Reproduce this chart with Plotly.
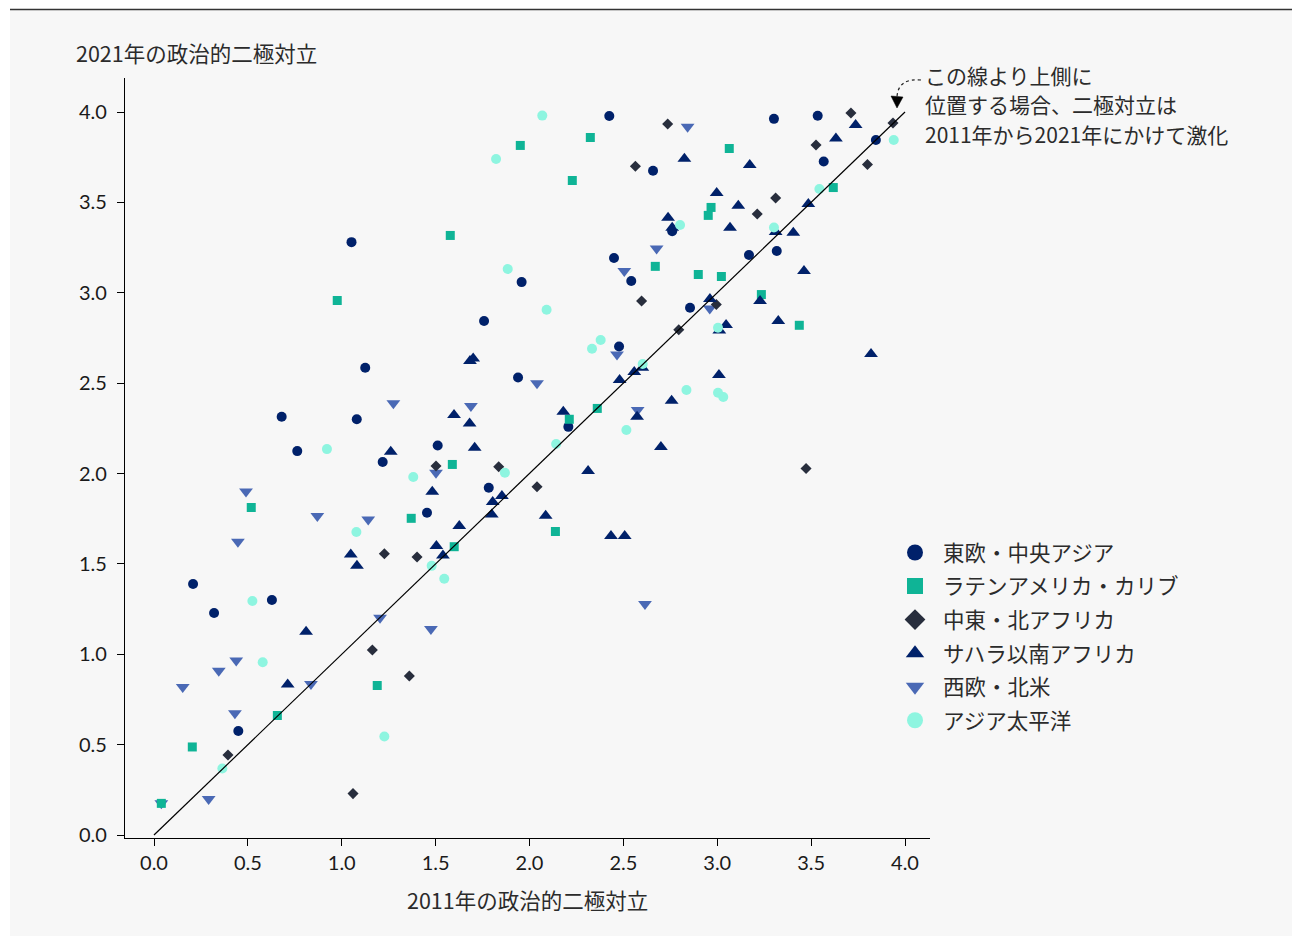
import plotly.graph_objects as go

# ---------------- data ----------------
ee_x = [1.052, 1.125, 0.68, 1.08, 0.763, 1.218, 2.425, 2.658, 2.45, 2.542, 1.958, 1.758, 2.477, 1.939, 2.207,
        1.511, 3.302, 3.535, 3.845, 3.567, 2.76, 3.169, 3.317, 2.855, 1.783, 1.454, 0.208, 0.628, 0.32, 0.449]
ee_y = [3.28, 2.585, 2.314, 2.30, 2.124, 2.064, 3.978, 3.675, 3.192, 3.065, 3.059, 2.844, 2.703, 2.531, 2.258,
        2.155, 3.962, 3.979, 3.845, 3.726, 3.34, 3.209, 3.231, 2.917, 1.921, 1.783, 1.389, 1.30, 1.228, 0.575]

la_x = [0.976, 2.324, 1.951, 2.228, 1.578, 2.67, 2.361, 2.212, 1.589, 3.064, 3.618, 2.967, 2.952, 2.899, 3.022,
        3.235, 3.437, 0.518, 1.189, 0.657, 0.204, 0.039, 1.37, 2.138, 1.599]
la_y = [2.957, 3.859, 3.815, 3.621, 3.317, 3.146, 2.36, 2.30, 2.05, 3.798, 3.582, 3.472, 3.428, 3.101, 3.09,
        2.99, 2.82, 1.812, 0.827, 0.661, 0.487, 0.175, 1.752, 1.679, 1.595]

me_x = [2.564, 2.597, 1.502, 1.836, 2.736, 3.712, 3.936, 3.526, 3.80, 3.311, 3.213, 2.995, 2.795, 3.473, 1.227,
        1.163, 0.394, 1.06, 2.04, 1.401, 1.36]
me_y = [3.70, 2.954, 2.042, 2.037, 3.934, 3.994, 3.939, 3.817, 3.71, 3.524, 3.436, 2.935, 2.795, 2.028, 1.556,
        1.024, 0.443, 0.229, 1.927, 1.538, 0.88]

ssa_x = [1.261, 1.683, 1.70, 2.558, 2.601, 2.48, 1.598, 1.681, 2.18, 2.573, 1.708, 2.312, 2.70, 3.737, 3.632,
         2.825, 3.173, 2.997, 3.112, 3.485, 2.738, 2.76, 3.068, 3.311, 3.405, 3.462, 3.228, 2.961, 3.047, 3.011,
         3.325, 3.819, 3.009, 2.757, 1.048, 1.081, 0.81, 0.712, 1.482, 1.804, 1.853, 1.799, 2.086, 1.626, 2.434,
         2.507, 1.504, 1.539]
ssa_y = [2.12, 2.623, 2.636, 2.562, 2.585, 2.517, 2.324, 2.277, 2.341, 2.314, 2.142, 2.014, 2.147, 3.928, 3.853,
         3.741, 3.707, 3.552, 3.481, 3.491, 3.415, 3.36, 3.36, 3.336, 3.332, 3.12, 2.954, 2.966, 2.822, 2.791,
         2.844, 2.661, 2.545, 2.402, 1.552, 1.489, 1.125, 0.833, 1.899, 1.843, 1.876, 1.773, 1.766, 1.71, 1.654,
         1.654, 1.599, 1.546]

we_x = [1.275, 2.677, 2.505, 2.466, 2.04, 1.688, 2.576, 2.842, 2.96, 0.49, 0.87, 1.141, 0.447, 1.204, 0.438,
        0.345, 0.153, 0.836, 0.431, 0.291, 0.039, 1.502, 2.615, 1.475]
we_y = [2.388, 3.245, 3.12, 2.658, 2.50, 2.373, 2.351, 3.918, 2.913, 1.90, 1.765, 1.746, 1.622, 1.202, 0.966,
        0.909, 0.819, 0.835, 0.673, 0.199, 0.175, 2.004, 1.278, 1.14]

ap_x = [0.921, 2.068, 1.822, 1.884, 2.091, 2.379, 2.333, 2.603, 2.516, 2.142, 3.94, 3.544, 2.802, 3.302, 3.004,
        2.836, 3.004, 3.032, 1.078, 0.524, 0.579, 1.227, 0.364, 1.381, 1.869, 1.479, 1.546]
ap_y = [2.135, 3.98, 3.74, 3.131, 2.906, 2.739, 2.69, 2.606, 2.241, 2.163, 3.845, 3.574, 3.375, 3.361, 2.806,
        2.462, 2.447, 2.423, 1.676, 1.295, 0.956, 0.545, 0.368, 1.981, 2.004, 1.489, 1.418]

region_names = ["東欧・中央アジア", "ラテンアメリカ・カリブ", "中東・北アフリカ",
                "サハラ以南アフリカ", "西欧・北米", "アジア太平洋"]
x_ticks = [0.0, 0.5, 1.0, 1.5, 2.0, 2.5, 3.0, 3.5, 4.0]
y_ticks = [0.0, 0.5, 1.0, 1.5, 2.0, 2.5, 3.0, 3.5, 4.0]
x_title = "2011年の政治的二極対立"
y_title = "2021年の政治的二極対立"
note_lines = ["この線より上側に", "位置する場合、二極対立は", "2011年から2021年にかけて激化"]

# ---------------- styling ----------------
OFF = 8                                   # page body margin
W, H = 1300 - OFF, 936 - OFF
# plot area in screen pixels
L, R, T, B = 125, 930, 78, 838
NAVY = "#00216a"
TEAL = "#0fb496"
DARK = "#282e3d"
BLUE = "#4a69b5"
AQUA = "#8ef5e0"
TEXT = "#2b2b2b"
FONT = "Lato, 'Noto Sans CJK JP', sans-serif"
CJK = "'Noto Sans CJK JP', sans-serif"


def px(xs):
    return (xs - L) / (R - L)


def py(ys):
    return (B - ys) / (B - T)


series = [
    (4, we_x, we_y, "triangle-down", BLUE, 12, 20),
    (0, ee_x, ee_y, "circle", NAVY, 10, 19),
    (1, la_x, la_y, "square", TEAL, 9, 18),
    (2, me_x, me_y, "diamond", DARK, 8.5, 17),
    (3, ssa_x, ssa_y, "triangle-up", NAVY, 12, 20),
    (5, ap_x, ap_y, "circle", AQUA, 10, 19),
]

fig = go.Figure()
for idx, xs, ys, sym, col, size, lsize in series:
    fig.add_trace(go.Scatter(
        x=xs, y=ys, mode="markers", name=region_names[idx], showlegend=False,
        marker=dict(symbol=sym, color=col, size=size, line=dict(width=0)),
        hoverinfo="x+y+name",
    ))

for idx, xs, ys, sym, col, size, lsize in sorted(series, key=lambda s: s[0]):
    fig.add_trace(go.Scatter(
        x=[None], y=[None], mode="markers", name=region_names[idx], showlegend=True,
        legendgroup=f"g{idx}", legendrank=idx,
        marker=dict(symbol=sym, color=col, size=lsize, line=dict(width=0)),
    ))

shapes = [
    dict(type="rect", xref="paper", yref="paper", x0=px(10), x1=px(1295), y0=py(940), y1=py(10),
         fillcolor="#f7f7f7", line=dict(width=0), layer="below"),
    dict(type="line", xref="paper", yref="paper", x0=px(10), x1=px(1295), y0=py(9.5), y1=py(9.5),
         line=dict(color="#333333", width=1.5)),
    dict(type="line", xref="x", yref="y", x0=0, y0=0, x1=4, y1=4,
         line=dict(color="black", width=1.2)),
    dict(type="path", xref="paper", yref="paper",
         path=f"M {px(921)},{py(80)} Q {px(898)},{py(78)} {px(897)},{py(97)}",
         line=dict(color="#222222", width=1.2, dash="dot")),
    dict(type="path", xref="paper", yref="paper",
         path=f"M {px(891)},{py(96)} L {px(903)},{py(97)} L {px(897)},{py(108)} Z",
         fillcolor="black", line=dict(color="black", width=0.5)),
]

annotations = [
    dict(text=y_title, xref="paper", yref="paper", x=px(74), y=py(53), xanchor="left", yanchor="middle",
         showarrow=False, font=dict(family=CJK, size=21.5, color=TEXT)),
    dict(text=x_title, xref="paper", yref="paper", x=px(527), y=py(900), xanchor="center", yanchor="middle",
         showarrow=False, font=dict(family=CJK, size=21.5, color=TEXT)),
]
for line, yc in zip(note_lines, [75.5, 104.5, 133.5]):
    annotations.append(dict(
        text=line, xref="paper", yref="paper", x=px(923), y=py(yc),
        xanchor="left", yanchor="middle", align="left", showarrow=False,
        font=dict(family=CJK, size=21, color=TEXT)))

fig.update_layout(
    width=W, height=H, autosize=False,
    margin=dict(l=L - OFF, r=W - (R - OFF), t=T - OFF, b=H - (B - OFF), pad=0),
    paper_bgcolor="white", plot_bgcolor="rgba(0,0,0,0)",
    font=dict(family=FONT, color=TEXT),
    shapes=shapes, annotations=annotations,
    legend=dict(
        x=px(887), y=py(532), xanchor="left", yanchor="top",
        bgcolor="rgba(0,0,0,0)", font=dict(family=CJK, size=21.5, color=TEXT),
        itemwidth=46, traceorder="grouped", tracegroupgap=2.6, itemclick=False,
    ),
    xaxis=dict(
        range=[(L - 154) / 187.75, (R - 154) / 187.75], tickvals=x_ticks,
        ticktext=[f"{v:.1f}" for v in x_ticks],
        showgrid=False, zeroline=False, showline=True, linecolor="black", linewidth=1.2,
        ticks="outside", ticklen=7, tickwidth=1.2, tickcolor="black",
        tickfont=dict(family=FONT, size=20, color="#1a1a1a"),
    ),
    yaxis=dict(
        range=[(835 - B) / 180.75, (835 - T) / 180.75], tickvals=y_ticks,
        ticktext=[f"{v:.1f}" for v in y_ticks],
        showgrid=False, zeroline=False, showline=True, linecolor="black", linewidth=1.2,
        ticks="outside", ticklen=7, tickwidth=1.2, tickcolor="black", ticklabelstandoff=6,
        tickfont=dict(family=FONT, size=20, color="#1a1a1a"),
    ),
)

fig.write_html("out.html")
